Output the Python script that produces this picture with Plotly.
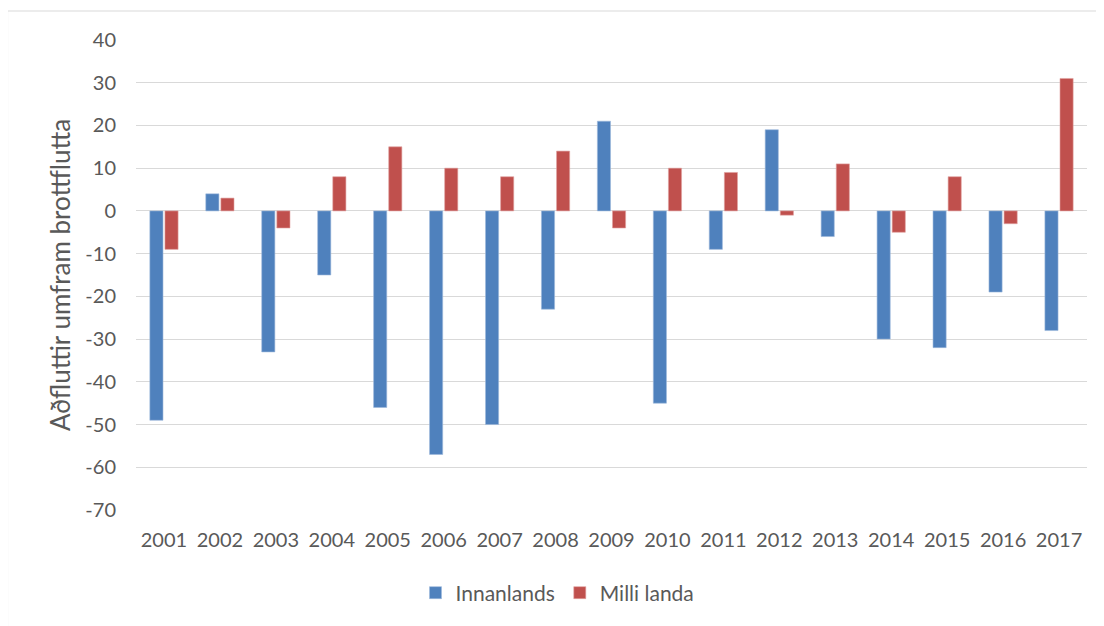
import plotly.graph_objects as go

years = [str(y) for y in range(2001, 2018)]
innanlands = [-49, 4, -33, -15, -46, -57, -50, -23, 21, -45, -9, 19, -6, -30, -32, -19, -28]
milli_landa = [-9, 3, -4, 8, 15, 10, 8, 14, -4, 10, 9, -1, 11, -5, 8, -3, 31]
y_ticks = list(range(-70, 41, 10))
y_tick_text = [str(v) for v in y_ticks]

FONT = "Lato, 'Open Sans', sans-serif"
GRAY = "#595959"

fig = go.Figure()
fig.add_trace(go.Bar(x=years, y=innanlands, name="Innanlands",
                     marker=dict(color="#4F81BD", line=dict(color="#9DB8DC", width=0.6))))
fig.add_trace(go.Bar(x=years, y=milli_landa, name="Milli landa",
                     marker=dict(color="#C0504D", line=dict(color="#E0A3A1", width=0.6))))

# page body adds an 8px offset; plot area targeted at screen x 136..1087, y 40..510
OFF = 8
PX0, PX1, PY0, PY1 = 136, 1087, 40, 510
L, T = PX0 - OFF, PY0 - OFF
R = (1104 + OFF) - PX1
B = (626 + OFF) - PY1
pw, ph = PX1 - PX0, PY1 - PY0

fig.update_layout(
    width=1104, height=626,
    margin=dict(l=L, r=R, t=T, b=B, pad=0),
    paper_bgcolor="white", plot_bgcolor="white",
    barmode="group", bargap=0.46, bargroupgap=0.13,
    font=dict(family=FONT, size=20, color=GRAY),
    showlegend=True,
    legend=dict(orientation="h", x=0.5 - 54 / pw, xanchor="center", y=(PY1 - 593) / ph,
                yanchor="middle",
                font=dict(family=FONT, size=21, color=GRAY), itemwidth=30,
                traceorder="normal"),
    xaxis=dict(type="category", showgrid=False, zeroline=False, showline=False,
               ticks="", ticklabelstandoff=16,
               tickfont=dict(family=FONT, size=20, color=GRAY)),
    yaxis=dict(range=[-70, 40], tickvals=y_ticks, ticktext=y_tick_text,
               showgrid=True, gridcolor="#D9D9D9",
               gridwidth=1.3, zeroline=True, zerolinecolor="#D9D9D9", zerolinewidth=1.3,
               showline=False, ticks="", ticklabelstandoff=19,
               tickfont=dict(family=FONT, size=20, color=GRAY),
               title=dict(text="Aðfluttir umfram brottflutta", standoff=7,
                          font=dict(family=FONT, size=26, color=GRAY))),
    shapes=[dict(type="rect", xref="paper", yref="paper",
                 x0=(7.5 - PX0) / pw, x1=(1115 - PX0) / pw,
                 y0=(PY1 - 640) / ph, y1=(PY1 - 11) / ph,
                 line=dict(color="#D9D9D9", width=1.2), fillcolor="rgba(0,0,0,0)",
                 layer="below")],
)

fig.write_html("out.html")
